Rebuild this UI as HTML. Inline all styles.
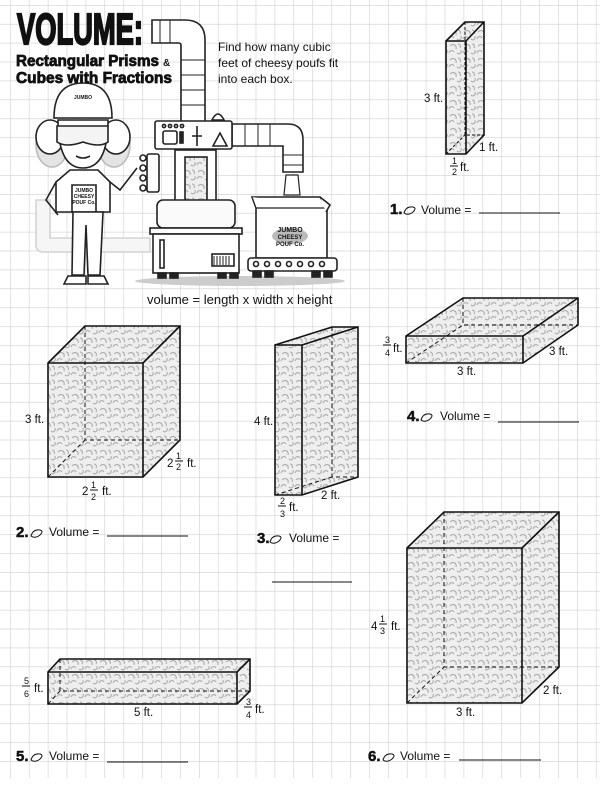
<!DOCTYPE html>
<html><head><meta charset="utf-8"><style>
html,body{margin:0;padding:0;background:#fff;}
svg{display:block;}
text{font-family:"Liberation Sans",sans-serif;fill:#111;}
.n{font-family:"Liberation Sans Narrow","Liberation Sans",sans-serif;font-weight:bold;}
.l{font-size:11.5px;}
.f{font-size:9px;}
</style></head><body>
<svg width="600" height="793" viewBox="0 0 600 793" xmlns="http://www.w3.org/2000/svg">
<defs>
<pattern id="g" x="10" y="5" width="18.9" height="18.9" patternUnits="userSpaceOnUse">
<path d="M0 0V18.9M0 0H18.9" stroke="#cfcfcf" stroke-width="1.2" fill="none"/>
</pattern>
<pattern id="t" width="14" height="14" patternUnits="userSpaceOnUse">
<rect width="14" height="14" fill="#eeeeee"/>
<path d="M2 4c3-3 7-1 6 3M9 11c2 2 5 0 4-3M1 11c1-3 4-3 5-1M10 2c2 0 3 2 2 4" stroke="#a8a8a8" stroke-width="1" fill="none"/>
</pattern>
</defs>
<rect x="0" y="0" width="600" height="778" fill="url(#g)"/>

<!-- illustration -->
<g stroke="#222" stroke-width="1.6" fill="#fff">
<path d="M36 200V245Q36 252 44 252H150V238H50V200Z" fill="#f6f6f6" stroke="#d4d4d4"/>
<ellipse cx="240" cy="281" rx="105" ry="5" fill="#ccc" stroke="none"/>
<path d="M152 20H185Q205 20 205 40V122H181V45Q181 43 178 43H152Z"/>
<path d="M181 60H205M181 75H205M181 90H205M181 105H205M160 20V43M170 20V43" stroke-width="1"/>
<path d="M232 124H288Q303 124 303 140V172H283V146H232Z"/>
<path d="M245 124V146M258 124V146M270 124V146M283 155H303M283 165H303" stroke-width="1"/>
<path d="M286 175L298 175L300 195L284 195Z" stroke-width="1.2"/>
<path d="M212 120Q218 108 224 120Z"/>
<rect x="155" y="121" width="77" height="28" rx="2"/>
<rect x="163" y="131" width="14" height="13" rx="2"/>
<rect x="180" y="132" width="3" height="11" fill="#222"/>
<path d="M197 126V146M192 136H202" />
<path d="M213 146L220 133L227 146Z"/>
<circle cx="164" cy="126" r="1.6"/><circle cx="170" cy="126" r="1.6"/><circle cx="176" cy="126" r="1.6"/><circle cx="182" cy="126" r="1.6"/>
<rect x="175" y="150" width="41" height="52"/>
<rect x="185" y="157" width="22" height="55" fill="url(#t)"/>
<rect x="147" y="154" width="12" height="38" rx="2"/>
<circle cx="143" cy="158" r="3"/><circle cx="143" cy="168" r="3"/><circle cx="143" cy="178" r="3"/><circle cx="143" cy="188" r="3"/>
<rect x="157" y="200" width="78" height="28" rx="6" fill="#fafafa"/>
<rect x="150" y="228" width="92" height="6"/>
<rect x="153" y="234" width="86" height="39"/>
<rect x="160" y="240" width="4" height="28"/>
<rect x="212" y="254" width="22" height="12" fill="#fff"/>
<path d="M214 256V265M217 256V265M220 256V265M223 256V265M226 256V265M229 256V265" stroke-width="1"/>
<rect x="158" y="273" width="8" height="5" fill="#222"/><rect x="170" y="273" width="8" height="5" fill="#222"/>
<rect x="218" y="273" width="8" height="5" fill="#222"/><rect x="230" y="273" width="8" height="5" fill="#222"/>
<path d="M252 197H320L327 208V258H256V208Z"/>
<path d="M252 197L256 208H327" stroke-width="1.2"/>
<path d="M320 197L330 205L326 212"/>
<ellipse cx="290" cy="236" rx="18" ry="8" fill="#bbb" stroke="none"/>
<rect x="248" y="258" width="89" height="13" rx="3"/>
<circle cx="256" cy="264" r="2.5"/><circle cx="267" cy="264" r="2.5"/><circle cx="278" cy="264" r="2.5"/><circle cx="289" cy="264" r="2.5"/><circle cx="300" cy="264" r="2.5"/><circle cx="311" cy="264" r="2.5"/><circle cx="322" cy="264" r="2.5"/>
<rect x="253" y="271" width="8" height="6" fill="#222"/><rect x="265" y="271" width="8" height="6" fill="#222"/><rect x="312" y="271" width="8" height="6" fill="#222"/><rect x="324" y="271" width="8" height="6" fill="#222"/>
<!-- girl -->
<ellipse cx="52" cy="145" rx="16" ry="22" fill="#e4e4e4" stroke="#bbb"/>
<ellipse cx="114" cy="145" rx="16" ry="22" fill="#e4e4e4" stroke="#bbb"/>
<ellipse cx="50" cy="137" rx="14" ry="17"/>
<ellipse cx="116" cy="137" rx="14" ry="17"/>
<path d="M54 118Q54 83 83 83Q112 83 112 118Z"/>
<path d="M58 120Q58 168 83 168Q108 168 108 120Z"/>
<path d="M57 126H108V142Q100 148 83 142Q66 148 57 142Z" fill="#f4f4f4"/>
<path d="M76 156Q83 160 90 156" fill="none"/>
<path d="M70 170H98L110 182V212H56V182Z"/>
<path d="M72 185H96V212H72Z"/>
<path d="M73 212H103L100 275H88L86 225L84 275H72Z"/>
<path d="M68 276H86V284H64Z"/><path d="M88 276H104L108 284H88Z"/>
<path d="M56 182L46 200L58 215" fill="none"/>
<path d="M110 182L120 190L137 168" fill="none"/>
</g>
<g font-family="Liberation Sans Narrow,Liberation Sans,sans-serif" font-weight="bold" font-size="5" text-anchor="middle" fill="#222">
<text x="84" y="192">JUMBO</text><text x="84" y="198">CHEESY</text><text x="84" y="204">POUF Co.</text>
<text x="290" y="232" font-size="7" fill="#777">JUMBO</text><text x="290" y="239" font-size="6" fill="#fff">CHEESY</text><text x="290" y="246" font-size="6" fill="#777">POUF Co.</text>
<text x="83" y="99">JUMBO</text>
</g>

<!-- title -->
<text x="17" y="44" class="n" font-size="44" stroke="#111" stroke-width="2.2" textLength="126" lengthAdjust="spacingAndGlyphs">VOLUME:</text>
<text x="16" y="66" class="n" font-size="16" stroke="#111" stroke-width="0.8" textLength="143" lengthAdjust="spacingAndGlyphs">Rectangular Prisms</text>
<text x="163" y="66" class="n" font-size="10">&amp;</text>
<text x="16" y="83" class="n" font-size="16" stroke="#111" stroke-width="0.8" textLength="156" lengthAdjust="spacingAndGlyphs">Cubes with Fractions</text>
<text x="218" y="51" font-size="12">Find how many cubic</text>
<text x="218" y="67" font-size="12">feet of cheesy poufs fit</text>
<text x="218" y="83" font-size="12">into each box.</text>
<text x="147" y="304" font-size="13">volume = length x width x height</text>

<!-- boxes -->
<g stroke="#111" stroke-width="1.6" fill="url(#t)" stroke-linejoin="miter">
<path d="M446 41L465 22H484V135L466 154H446Z"/>
<path d="M465 22V135H484M446 154L465 135" stroke-dasharray="3 2" fill="none" stroke-width="1"/>
<path d="M446 41H466V154M466 41L484 22" fill="none"/>
<path d="M48 363L85 326H180V440L143 477H48Z"/>
<path d="M85 326V440H180M48 477L85 440" stroke-dasharray="4 3" fill="none" stroke-width="1"/>
<path d="M48 363H143V477M143 363L180 326" fill="none"/>
<path d="M275 345L332 327H358V477L302 495H275Z"/>
<path d="M332 327V477H358M275 495L332 477" stroke-dasharray="4 3" fill="none" stroke-width="1"/>
<path d="M275 345H302V495M302 345L358 327" fill="none"/>
<path d="M406 336L463 298H578V325L523 363H406Z"/>
<path d="M463 298V325H578M406 363L463 325" stroke-dasharray="4 3" fill="none" stroke-width="1"/>
<path d="M406 336H523V363M523 336L578 298" fill="none"/>
<path d="M48 672L60 659H250V691L237 704H48Z"/>
<path d="M60 659V691H250M48 704L60 691" stroke-dasharray="4 3" fill="none" stroke-width="1"/>
<path d="M48 672H237V704M237 672L250 659" fill="none"/>
<path d="M407 548L444 512H559V667L522 703H407Z"/>
<path d="M444 512V667H559M407 703L444 667" stroke-dasharray="4 3" fill="none" stroke-width="1"/>
<path d="M407 548H522V703M522 548L559 512" fill="none"/>
</g>

<g class="l">
<text x="424" y="102" class="l">3 ft.</text>
<text x="479" y="151" class="l">1 ft.</text>
<text x="452" y="164" class="f">1</text><path d="M450 166H458" stroke="#111"/><text x="452" y="175" class="f">2</text><text x="460" y="171" class="l">ft.</text>
<text x="25" y="423" class="l">3 ft.</text>
<text x="167" y="467" class="l">2</text><text x="176" y="459" class="f">1</text><path d="M175 461H183" stroke="#111"/><text x="176" y="470" class="f">2</text><text x="187" y="467" class="l">ft.</text>
<text x="82" y="495" class="l">2</text><text x="91" y="488" class="f">1</text><path d="M90 490H98" stroke="#111"/><text x="91" y="500" class="f">2</text><text x="102" y="495" class="l">ft.</text>
<text x="254" y="425" class="l">4 ft.</text>
<text x="321" y="499" class="l">2 ft.</text>
<text x="280" y="504" class="f">2</text><path d="M278 506H286" stroke="#111"/><text x="280" y="517" class="f">3</text><text x="289" y="511" class="l">ft.</text>
<text x="385" y="343" class="f">3</text><path d="M383 345H391" stroke="#111"/><text x="385" y="356" class="f">4</text><text x="393" y="352" class="l">ft.</text>
<text x="549" y="355" class="l">3 ft.</text>
<text x="457" y="375" class="l">3 ft.</text>
<text x="24" y="684" class="f">5</text><path d="M22 686H30" stroke="#111"/><text x="24" y="697" class="f">6</text><text x="34" y="692" class="l">ft.</text>
<text x="134" y="716" class="l">5 ft.</text>
<text x="246" y="705" class="f">3</text><path d="M244 707H252" stroke="#111"/><text x="246" y="718" class="f">4</text><text x="255" y="713" class="l">ft.</text>
<text x="371" y="630" class="l">4</text><text x="380" y="622" class="f">1</text><path d="M379 624H387" stroke="#111"/><text x="380" y="634" class="f">3</text><text x="391" y="630" class="l">ft.</text>
<text x="543" y="694" class="l">2 ft.</text>
<text x="456" y="716" class="l">3 ft.</text>
</g>

<g font-size="12">
<text x="390" y="214" class="n" font-size="15" stroke="#111" stroke-width="0.5">1.</text><path d="M404 213q2-7 9-6q4 1 0 5q-5 4-9 1z" fill="none" stroke="#111"/><text x="421" y="214">Volume =</text><path d="M479 213H560" stroke="#111"/>
<text x="16" y="537" class="n" font-size="15" stroke="#111" stroke-width="0.5">2.</text><path d="M31 536q2-7 9-6q4 1 0 5q-5 4-9 1z" fill="none" stroke="#111"/><text x="49" y="536">Volume =</text><path d="M107 536H188" stroke="#111"/>
<text x="257" y="543" class="n" font-size="15" stroke="#111" stroke-width="0.5">3.</text><path d="M270 542q2-7 9-6q4 1 0 5q-5 4-9 1z" fill="none" stroke="#111"/><text x="289" y="542">Volume =</text><path d="M272 582H352" stroke="#111"/>
<text x="407" y="421" class="n" font-size="15" stroke="#111" stroke-width="0.5">4.</text><path d="M421 420q2-7 9-6q4 1 0 5q-5 4-9 1z" fill="none" stroke="#111"/><text x="440" y="420">Volume =</text><path d="M498 422H579" stroke="#111"/>
<text x="16" y="761" class="n" font-size="15" stroke="#111" stroke-width="0.5">5.</text><path d="M31 760q2-7 9-6q4 1 0 5q-5 4-9 1z" fill="none" stroke="#111"/><text x="49" y="760">Volume =</text><path d="M107 762H188" stroke="#111"/>
<text x="368" y="761" class="n" font-size="15" stroke="#111" stroke-width="0.5">6.</text><path d="M383 760q2-7 9-6q4 1 0 5q-5 4-9 1z" fill="none" stroke="#111"/><text x="400" y="760">Volume =</text><path d="M459 760H541" stroke="#111"/>
</g>
</svg>
</body></html>
